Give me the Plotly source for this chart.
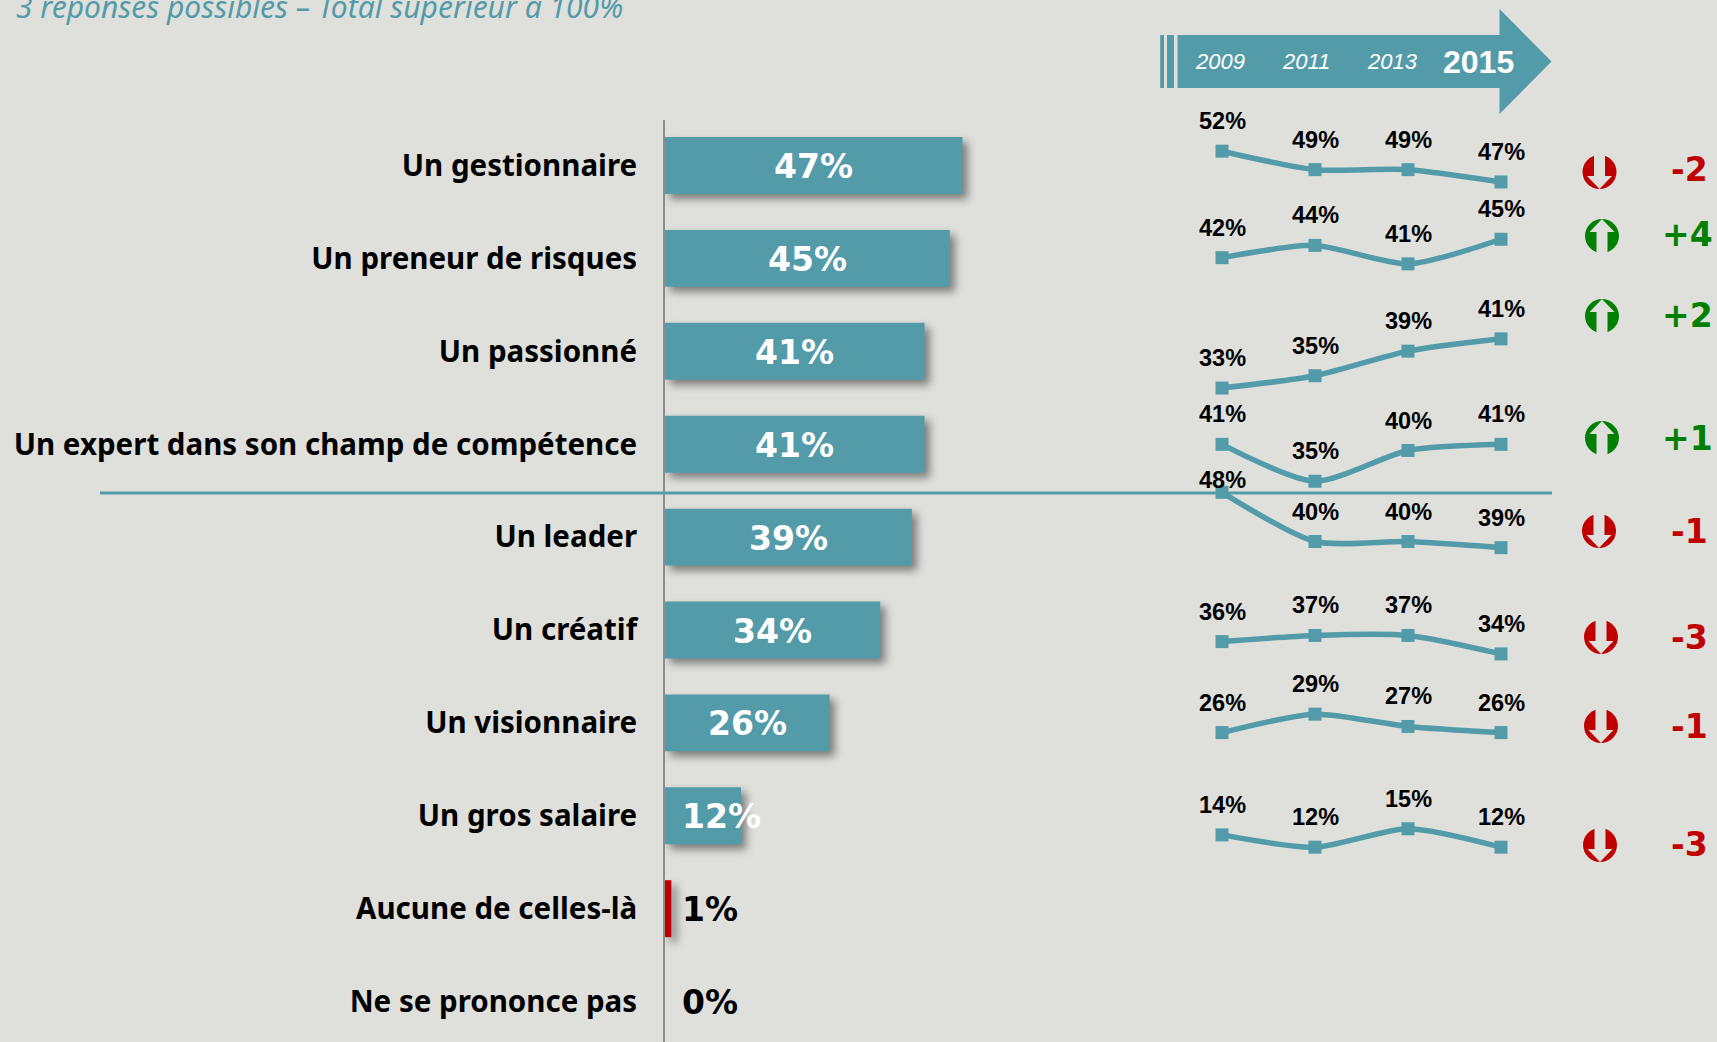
import plotly.graph_objects as go

# ---------- data ----------
categories = ["Un gestionnaire", "Un preneur de risques", "Un passionné",
              "Un expert dans son champ de compétence", "Un leader", "Un créatif",
              "Un visionnaire", "Un gros salaire", "Aucune de celles-là", "Ne se prononce pas"]
values_2015 = [47, 45, 41, 41, 39, 34, 26, 12, 1, 0]
years = [2009, 2011, 2013, 2015]
history = [
    [52, 49, 49, 47],
    [42, 44, 41, 45],
    [33, 35, 39, 41],
    [41, 35, 40, 41],
    [48, 40, 40, 39],
    [36, 37, 37, 34],
    [26, 29, 27, 26],
    [14, 12, 15, 12],
]
deltas = ["-2", "+4", "+2", "+1", "-1", "-3", "-1", "-3"]
subtitle = "3 réponses possibles – Total supérieur à 100%"

# ---------- layout constants (pixels in a 1717x1042 page) ----------
W, H = 1717, 1042
BG, TEAL, RED, GREEN = "#DFE0DC", "#549BAA", "#C00000", "#008000"
LABEL_FONT = "Noto Sans"
VALUE_FONT = "DejaVu Sans"
X0, PX_PER_PCT = 665, 6.33
ROW0, ROW_H, AXIS_TOP = 165.5, 92.9, 120
LINE_K = 6.15
LINE_BASE = [471, 516, 591, 696.5, 787.5, 863, 892.5, 921]
YEAR_X0, YEAR_PX = 1222, 46.5
ICON_X = [1599.5, 1602, 1602, 1602, 1599, 1601, 1601, 1600]
ICON_Y = [172, 236, 316, 438, 531, 637, 726, 845]
DELTA_Y = [170, 235, 315, 438, 531, 637, 726, 844]
DELTA_X = [1710, 1715, 1715, 1715, 1710, 1710, 1710, 1710]
BAR_COLORS = [RED if c == "Aucune de celles-là" else TEAL for c in categories]

fig = go.Figure()
fig.add_bar(x=values_2015, y=categories, orientation="h", width=0.613,
            marker=dict(color=BAR_COLORS, line_width=0), hoverinfo="skip",
            xaxis="x", yaxis="y")

fig.update_layout(
    width=W, height=H, margin=dict(l=0, r=0, t=0, b=0), autosize=False,
    paper_bgcolor=BG, plot_bgcolor="rgba(0,0,0,0)", showlegend=False,
    xaxis=dict(domain=[X0 / W, 1], range=[0, (W - X0) / PX_PER_PCT], visible=False, fixedrange=True),
    yaxis=dict(domain=[0, (H - AXIS_TOP) / H], categoryorder="array", categoryarray=categories,
               range=[(H - ROW0) / ROW_H, (AXIS_TOP - ROW0) / ROW_H], showgrid=False, zeroline=False,
               showline=True, linecolor="#8C8C8C", linewidth=2, ticks="", ticklabelstandoff=20,
               tickfont=dict(family=LABEL_FONT, size=29.5, color="black", weight="bold")),
)

annotations = []
shapes = []

# bar value labels
for c, v in zip(categories, values_2015):
    big = v >= 20
    x = v / 2 if big else 2.3
    annotations.append(dict(x=x, y=c, xref="x", yref="y", text=f"{v}%", showarrow=False,
                            xanchor="center" if big else "left", yshift=-1,
                            font=dict(family=VALUE_FONT, size=33, weight="bold",
                                      color="white" if v >= 12 else "black")))

# sparkline panels: one shared x axis, one y axis per row, same scale but different baseline
x_range = [years[0] - YEAR_X0 / YEAR_PX, years[0] + (W - YEAR_X0) / YEAR_PX]
fig.update_layout(xaxis2=dict(domain=[0, 1], range=x_range, visible=False, anchor="y2", fixedrange=True))
for i, (vals, base) in enumerate(zip(history, LINE_BASE)):
    name = f"y{i + 2}"
    fig.add_scatter(x=years, y=vals, mode="lines+markers", xaxis="x2", yaxis=name, hoverinfo="skip",
                    cliponaxis=False,
                    line=dict(color=TEAL, width=5.5, shape="spline", smoothing=0.7),
                    marker=dict(symbol="square", size=13, color=TEAL))
    ax = dict(domain=[0, 1], range=[(base - H) / LINE_K, base / LINE_K], visible=False,
              anchor="x2", fixedrange=True)
    if i > 0:
        ax["overlaying"] = "y2"
    fig.update_layout({f"yaxis{i + 2}": ax})
    for yr, v in zip(years, vals):
        shift = 12 if v == 48 else 30
        annotations.append(dict(x=yr, y=v, xref="x2", yref=name, text=f"{v}%", showarrow=False, yshift=shift,
                                font=dict(family="Liberation Sans", size=23.5, color="black", weight="bold")))


def px(x):
    return x / W


def py(y):
    return 1 - y / H


def path(points):
    return "M " + " L ".join(f"{px(a):.5f},{py(b):.5f}" for a, b in points) + " Z"


# horizontal separator
shapes.append(dict(type="line", xref="paper", yref="paper", x0=px(100), x1=px(1552), y0=py(493), y1=py(493),
                   line=dict(color=TEAL, width=3), layer="above"))
# banner arrow
for a, b in [(1160.2, 1164), (1167, 1174)]:
    shapes.append(dict(type="rect", xref="paper", yref="paper", x0=px(a), x1=px(b), y0=py(35), y1=py(88),
                       fillcolor=TEAL, line_width=0))
shapes.append(dict(type="path", xref="paper", yref="paper", fillcolor=TEAL, line_width=0,
                   path=path([(1177.5, 35), (1499.5, 35), (1499.5, 9), (1551.5, 61.5),
                              (1499.5, 114), (1499.5, 88), (1177.5, 88)])))
for yr, cx in zip(years, [1220, 1306, 1392, 1478]):
    last = yr == years[-1]
    annotations.append(dict(x=px(cx), y=py(62), xref="paper", yref="paper", text=str(yr), showarrow=False,
                            xanchor="center", yanchor="middle",
                            font=dict(family="Liberation Sans", size=32 if last else 22, color="white",
                                      weight="bold" if last else "normal",
                                      style="normal" if last else "italic")))

# trend icons and deltas
R = 17
for d, ix, iy, dx, dy in zip(deltas, ICON_X, ICON_Y, DELTA_X, DELTA_Y):
    up = d.startswith("+")
    col = GREEN if up else RED
    shapes.append(dict(type="circle", xref="paper", yref="paper", x0=px(ix - R), x1=px(ix + R),
                       y0=py(iy + R), y1=py(iy - R), fillcolor=col, line_width=0))
    s = -1 if up else 1  # direction of the arrow on screen
    pts = [(ix - 5.5, iy - s * 18), (ix + 5.5, iy - s * 18), (ix + 5.5, iy + s * 4), (ix + 12.5, iy + s * 4),
           (ix, iy + s * 17), (ix - 12.5, iy + s * 4), (ix - 5.5, iy + s * 4)]
    shapes.append(dict(type="path", xref="paper", yref="paper", fillcolor=BG, line_width=0, path=path(pts)))
    annotations.append(dict(x=px(dx), y=py(dy), xref="paper", yref="paper", text=d, showarrow=False,
                            xanchor="right", yanchor="middle",
                            font=dict(family=VALUE_FONT, size=33, color=col, weight="bold")))

# subtitle, cut by the top edge as in the reference
annotations.append(dict(x=px(14), y=py(7), xref="paper", yref="paper", text=subtitle, showarrow=False,
                        xanchor="left", yanchor="middle",
                        font=dict(family=LABEL_FONT, size=30, color=TEAL, style="italic")))

fig.update_layout(annotations=annotations, shapes=shapes)

post = """
document.body.style.margin='0';
document.documentElement.style.overflow='hidden';
document.querySelectorAll('.bars .point path').forEach(function(p){
  p.style.filter='drop-shadow(5px 5px 4px rgba(0,0,0,0.45))';
});
"""
fig.write_html("out.html", post_script=post, config={"displayModeBar": False})
